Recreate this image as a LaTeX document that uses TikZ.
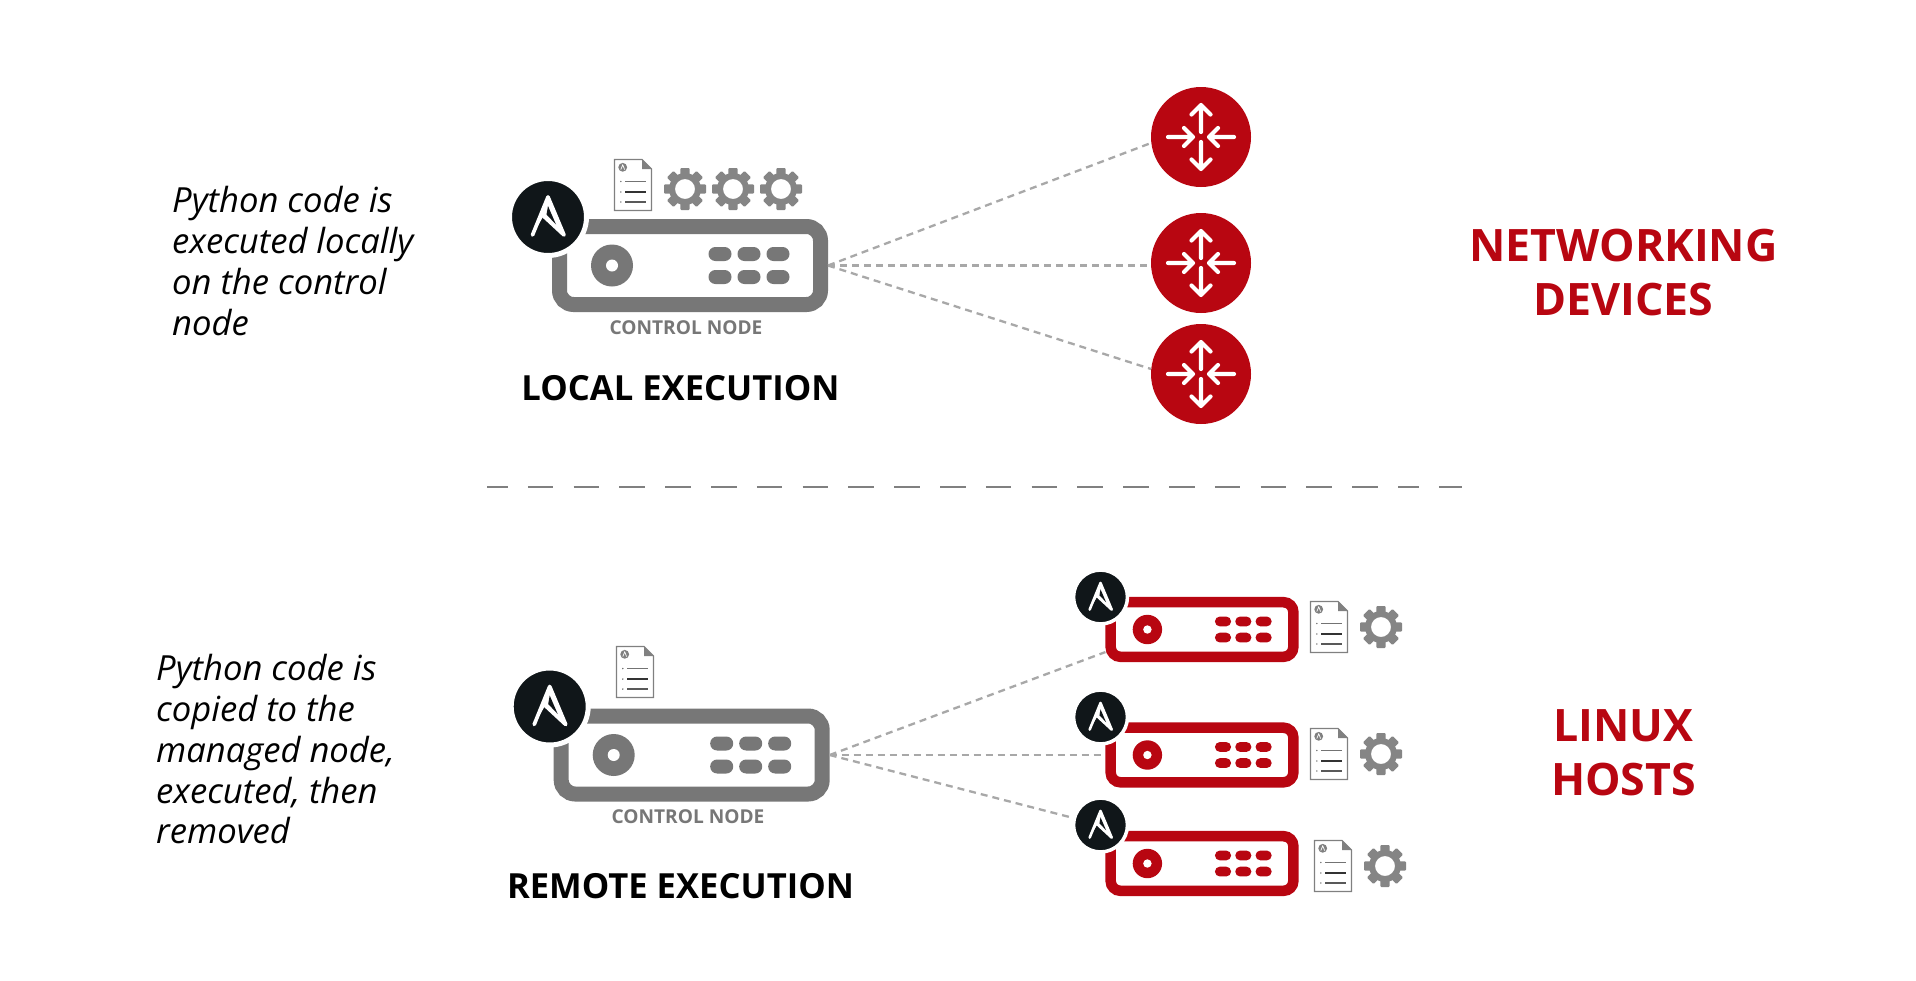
\documentclass[tikz,border=0pt]{standalone}
\usepackage{fontspec}
\setmainfont{Open Sans}
\usetikzlibrary{calc}
\definecolor{rh}{HTML}{B80611}
\definecolor{srv}{HTML}{777777}
\definecolor{inkblk}{HTML}{101619}
\definecolor{gearc}{HTML}{858585}
\definecolor{dashc}{HTML}{A8A8A8}
\definecolor{docc}{HTML}{808080}
\tikzset{
 px/.style={x=1pt,y=-1pt},
 boxnode/.style={draw=#1,fill=white,line width=15pt*\srvs,rounded corners=14pt*\srvs,minimum width=261pt*\srvs,minimum height=78pt*\srvs,inner sep=0pt},
 logonode/.style={circle,fill=inkblk,draw=white,line width=5pt*\srvs,minimum size=77pt*\srvs,inner sep=0pt},
 link/.style={draw=dashc,line width=2.3pt,dash pattern=on 7pt off 5pt},
 router/.style={circle,fill=rh,minimum size=100pt,inner sep=0pt,outer sep=0pt},
 rarrow/.style={white,line width=4.2pt,line cap=round,line join=round},
 bigtxt/.style={font=\fontsize{44.7}{54}\selectfont\bfseries,text=rh,align=center,inner sep=0pt},
 headtxt/.style={font=\fontsize{34.6}{40}\selectfont\bfseries,text=black,inner sep=0pt},
 ctltxt/.style={font=\fontsize{19.1}{22}\selectfont\bfseries,text=srv,inner sep=0pt},
 notetxt/.style={font=\fontsize{34.6}{40.7}\selectfont\itshape,text=black,align=left,inner sep=0pt,anchor=north west},
}
% server: #1 name, #2 x, #3 y, #4 scale, #5 colour, #6 #7 logo offset
\newcommand{\srvbox}[7]{%
 \def\srvs{#4}%
 \node[boxnode=#5] (#1) at (#2,#3) {};
 \begin{scope}[shift={(#2,#3)},scale=#4]
  \fill[#5] (-78,0) circle (21);
  \fill[white] (-78,0) circle (6);
  \foreach \bx in {30,59,88}\foreach \by in {-11.5,11.5}
    \fill[#5,rounded corners=6.9pt*#4] (\bx-11.5,\by-7) rectangle (\bx+11.5,\by+7);
 \end{scope}
 \node[logonode] (#1l) at ($(#2,#3)+(#6,#7)$) {};
 \begin{scope}[shift={(#1l.center)},scale=#4]
   \draw[white,line width=3.7pt*#4,line cap=round,line join=round,fill=white]
     (-15.5,18) -- (0,-20) -- (16,18) -- (-4.5,-1) ;
   \fill[inkblk] (0,-11) -- (8,7.5) -- (-1.5,-2.5) -- cycle;
 \end{scope}
}
% document icon at top-left #1,#2
\newcommand{\docicon}[2]{%
 \begin{scope}[shift={(#1,#2)}]
  \draw[fill=white,draw=docc,line width=1.2pt] (0.5,0.5) -- (28,0.5) -- (37.5,10) -- (37.5,51.5) -- (0.5,51.5) -- cycle;
  \fill[docc] (28,0.5) -- (37.5,10) -- (28,10) -- cycle;
  \fill[docc] (8.7,8.3) circle (4.4);
  \draw[white,line width=.7pt] (6.8,10.6) -- (8.7,5.8) -- (10.6,10.6);
  \foreach \dy/\dc in {22.5/55,33/80,43/65}{
   \draw[black!\dc,line width=1.1pt] (11,\dy) -- (32,\dy);
   \fill[black!60] (6.8,\dy) circle (.8);
  }
 \end{scope}
}
% gear at #1,#2
\newcommand{\gearicon}[2]{%
 \begin{scope}[shift={(#1,#2)}]
  \fill[gearc,even odd rule]
   (0,0) circle (16) (0,0) circle (10);
  \foreach \ga in {0,45,...,315}
   \fill[gearc,rotate=\ga,rounded corners=1pt] (-4.7,-13) -- (-4.7,-21) -- (4.7,-21) -- (4.7,-13) -- cycle;
 \end{scope}
}
% router arrows
\newcommand{\rarrows}[2]{%
 \begin{scope}[shift={(#1,#2)}]
  \draw[rarrow] (0,-5) -- (0,-32) (-9.5,-22.5) -- (0,-32) -- (9.5,-22.5);
  \draw[rarrow] (0,5) -- (0,32) (-9.5,22.5) -- (0,32) -- (9.5,22.5);
  \draw[rarrow] (-33,0) -- (-8,0) (-17,-9) -- (-8,0) -- (-17,9);
  \draw[rarrow] (33,0) -- (8,0) (17,-9) -- (8,0) -- (17,9);
 \end{scope}
}
\begin{document}
\begin{tikzpicture}[px]
\useasboundingbox (0,0) rectangle (1916,980);
\fill[white] (0,0) rectangle (1916,980);

% routers
\node[router] (r1) at (1201,137) {};
\node[router] (r2) at (1201,263) {};
\node[router] (r3) at (1201,374) {};
\rarrows{1201}{137}\rarrows{1201}{263}\rarrows{1201}{374}

% local control node
\srvbox{lc}{690}{265.5}{1}{srv}{-142}{-48.5}
\coordinate (r1a) at ([yshift=-6pt]r1.west);
\coordinate (r3a) at ([yshift=5pt]r3.west);
\draw[link] (lc.east) -- (r1a);
\draw[link] (lc.east) -- (lc.east -| r2.west);
\draw[link] (lc.east) -- (r3a);
\docicon{614}{159}
\gearicon{685}{189}\gearicon{733}{189}\gearicon{781}{189}
\node[ctltxt] (lct) at (686,328) {CONTROL NODE};
\node[headtxt] (lh) at (680.5,388) {LOCAL EXECUTION};
\node[notetxt] (ln) at (172,186.5) {Python code is\\executed locally\\on the control\\node};
\node[bigtxt] (nd) at (1623.5,273) {NETWORKING\\DEVICES};

% separator
\coordinate (sa) at (487,486.7);
\coordinate (sb) at (1462,486.7);
\draw[docc,line width=2.2pt,dash pattern=on 20.5pt off 20.3pt on 25.5pt off 20.3pt on 25.5pt off 20.3pt on 25.5pt off 20.3pt on 25.5pt off 20.3pt on 25.5pt off 20.3pt on 25.5pt off 20.3pt on 25.5pt off 20.3pt on 25.5pt off 20.3pt on 25.5pt off 20.3pt on 25.5pt off 20.3pt on 25.5pt off 20.3pt on 25.5pt off 20.3pt on 25.5pt off 20.3pt on 25.5pt off 20.3pt on 25.5pt off 20.3pt on 25.5pt off 20.3pt on 25.5pt off 20.3pt on 25.5pt off 20.3pt on 25.5pt off 20.3pt] (sa) -- (sb);

% remote
\srvbox{rc}{691.7}{755}{1}{srv}{-142}{-48.5}
\docicon{616}{646}
\node[ctltxt] (rct) at (688,817) {CONTROL NODE};
\node[headtxt] (rh) at (680.5,886) {REMOTE EXECUTION};
\node[notetxt] (rn) at (156,654.5) {Python code is\\copied to the\\managed node,\\executed, then\\removed};
\node[bigtxt] (lh2) at (1623.5,753) {LINUX\\HOSTS};

\srvbox{s1}{1202}{629.5}{0.7}{rh}{-101.5}{-32.5}
\docicon{1310}{601}\gearicon{1381}{627}
\srvbox{s2}{1202}{755}{0.7}{rh}{-101.5}{-38}
\docicon{1310}{728}\gearicon{1381}{754}
\srvbox{s3}{1202}{863.5}{0.7}{rh}{-101.5}{-38.5}
\docicon{1314}{840}\gearicon{1385}{866}

\coordinate (s1a) at ([yshift=10pt]s1.south west);
\draw[link] (rc.east) -- (s1a);
\draw[link] (rc.east) -- (s2.west);
\draw[link] (rc.east) -- (s3l);
\end{tikzpicture}
\end{document}
